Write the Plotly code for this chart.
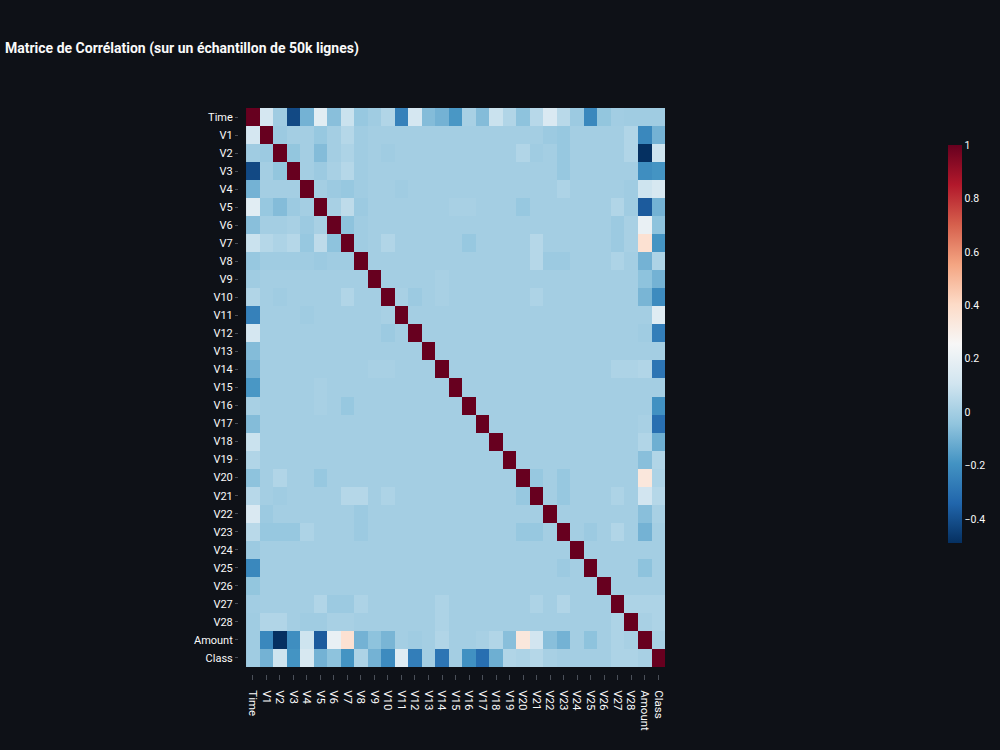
import plotly.graph_objects as go

labels = ["Time"] + [f"V{i}" for i in range(1, 29)] + ["Amount", "Class"]

# Lower-triangle rows: correlation of each variable with the variables before it
r_time = []
r_v1 = [0.12]
r_v2 = [-0.01, -0.02]
r_v3 = [-0.42, 0.00, -0.04]
r_v4 = [-0.10, 0.00, 0.00, 0.00]
r_v5 = [0.17, -0.03, -0.07, -0.02, 0.00]
r_v6 = [-0.06, 0.00, 0.00, 0.01, -0.02, 0.01]
r_v7 = [0.09, 0.04, 0.02, 0.04, -0.03, 0.06, -0.05]
r_v8 = [-0.03, -0.01, -0.01, -0.01, -0.01, -0.02, -0.01, -0.01]
r_v9 = [-0.01, 0.00, 0.00, 0.00, 0.00, 0.00, 0.00, 0.00, 0.00]
r_v10 = [0.03, 0.00, -0.01, 0.00, 0.00, 0.00, 0.00, 0.03, 0.00, 0.00]
r_v11 = [-0.25, 0.00, 0.00, 0.00, -0.01, 0.00, 0.00, 0.00, 0.00, 0.00, 0.01]
r_v12 = [0.12, 0.00, 0.00, 0.00, 0.00, 0.00, 0.00, 0.00, 0.00, 0.00, -0.02, 0.00]
r_v13 = [-0.07, 0.00, 0.00, 0.00, 0.00, 0.00, 0.00, 0.00, 0.00, 0.00, 0.00, 0.00, 0.00]
r_v14 = [-0.10, 0.00, 0.00, 0.00, 0.00, 0.00, 0.00, 0.00, 0.00, 0.01, 0.01, 0.00, 0.00, 0.00]
r_v15 = [-0.18, 0.00, 0.00, 0.00, 0.00, 0.01, 0.00, 0.00, 0.00, 0.00, 0.00, 0.00, 0.00, 0.00, 0.00]
r_v16 = [0.01, 0.00, 0.00, 0.00, 0.00, 0.01, 0.00, -0.03, 0.00, 0.00, 0.00, 0.00, 0.00, 0.00, 0.00, 0.00]
r_v17 = [-0.07, 0.00, 0.00, 0.00, 0.00, 0.00, 0.00, 0.00, 0.00, 0.00, 0.00, 0.00, 0.00, 0.00, 0.00, 0.00, 0.00]
r_v18 = [0.09, 0.00, 0.00, 0.00, 0.00, 0.00, 0.00, 0.00, 0.00, 0.00, 0.00, 0.00, 0.00, 0.00, 0.00, 0.00, 0.00, 0.00]
r_v19 = [0.03, 0.00, 0.00, 0.00, 0.00, 0.00, 0.00, 0.00, 0.00, 0.00, 0.00, 0.00, 0.00, 0.00, 0.00, 0.00, 0.00, 0.00, 0.00]
r_v20 = [-0.05, 0.00, 0.03, 0.00, 0.00, -0.03, 0.00, 0.00, 0.00, 0.00, 0.00, 0.00, 0.00, 0.00, 0.00, 0.00, 0.00, 0.00, 0.00, 0.00]
r_v21 = [0.045, 0.00, -0.01, 0.00, 0.00, 0.00, 0.00, 0.04, 0.04, 0.00, 0.02, 0.00, 0.00, 0.00, 0.00, 0.00, 0.00, 0.00, 0.00, 0.00, -0.03]
r_v22 = [0.14, -0.02, 0.00, 0.00, 0.00, 0.00, 0.00, 0.00, -0.02, 0.00, 0.00, 0.00, 0.00, 0.00, 0.00, 0.00, 0.00, 0.00, 0.00, 0.00, 0.00, 0.00]
r_v23 = [0.05, -0.03, -0.03, -0.03, 0.02, 0.00, 0.00, 0.00, -0.02, 0.00, 0.00, 0.00, 0.00, 0.00, 0.00, 0.00, 0.00, 0.00, 0.00, 0.00, -0.03, -0.03, 0.00]
r_v24 = [-0.02, 0.00, 0.00, 0.00, 0.00, 0.00, 0.00, 0.00, 0.00, 0.00, 0.00, 0.00, 0.00, 0.00, 0.00, 0.00, 0.00, 0.00, 0.00, 0.00, 0.00, 0.00, 0.00, 0.00]
r_v25 = [-0.23, 0.00, 0.00, 0.00, 0.00, 0.00, 0.00, 0.00, 0.00, 0.00, 0.00, 0.00, 0.00, 0.00, 0.00, 0.00, 0.00, 0.00, 0.00, 0.00, 0.00, 0.00, 0.00, -0.02, 0.00]
r_v26 = [-0.04, 0.00, 0.00, 0.00, 0.00, 0.00, 0.00, 0.00, 0.00, 0.00, 0.00, 0.00, 0.00, 0.00, 0.00, 0.00, 0.00, 0.00, 0.00, 0.00, 0.00, 0.00, 0.00, 0.00, 0.00, 0.00]
r_v27 = [-0.005, 0.00, 0.00, 0.00, 0.00, 0.03, -0.02, -0.02, 0.02, 0.00, 0.00, 0.00, 0.00, 0.00, 0.02, 0.00, 0.00, 0.00, 0.00, 0.00, 0.00, 0.02, 0.00, 0.03, 0.00, 0.00, 0.00]
r_v28 = [-0.01, 0.03, 0.03, 0.00, -0.01, -0.01, 0.01, 0.01, 0.00, 0.00, 0.00, 0.00, 0.00, 0.00, 0.02, 0.00, 0.00, 0.00, 0.00, 0.00, 0.00, 0.00, 0.00, 0.00, 0.00, 0.00, 0.00, 0.02]
r_amount = [-0.01, -0.23, -0.49, -0.21, 0.10, -0.37, 0.20, 0.37, -0.10, -0.05, -0.09, 0.00, -0.01,
            0.00, 0.03, 0.00, 0.00, 0.01, 0.03, -0.06, 0.34, 0.11, -0.06, -0.10, 0.00, -0.05, 0.00, 0.02, 0.01]
r_class = [-0.01, -0.10, 0.10, -0.19, 0.13, -0.10, -0.05, -0.19, 0.02, -0.10, -0.22, 0.16, -0.26,
           0.00, -0.29, 0.00, -0.20, -0.31, -0.11, 0.03, 0.02, 0.04, 0.01, 0.00, 0.00, 0.00, 0.00, 0.02, 0.02, 0.01]

rows = [r_time, r_v1, r_v2, r_v3, r_v4, r_v5, r_v6, r_v7, r_v8, r_v9, r_v10, r_v11, r_v12, r_v13,
        r_v14, r_v15, r_v16, r_v17, r_v18, r_v19, r_v20, r_v21, r_v22, r_v23, r_v24, r_v25, r_v26,
        r_v27, r_v28, r_amount, r_class]

n = len(labels)
z = [[1.0] * n for _ in range(n)]
for i, row in enumerate(rows):
    for j, v in enumerate(row):
        z[i][j] = v
        z[j][i] = v

BG = "#0e1117"
TXT = "#fafafa"
FONT = "Roboto, Arial, sans-serif"

fig = go.Figure(go.Heatmap(
    z=z, x=list(range(n)), y=list(range(n)),
    colorscale="RdBu_r",
    colorbar=dict(
        x=1.6643, xanchor="left", y=0.583, yanchor="middle",
        len=398, lenmode="pixels", thickness=14,
        xpad=0, ypad=0, outlinewidth=0,
        tickvals=[-0.4, -0.2, 0, 0.2, 0.4, 0.6, 0.8, 1],
        ticktext=["−0.4", "−0.2", "0", "0.2", "0.4", "0.6", "0.8", "1"],
        tickfont=dict(color=TXT, size=10.5, family=FONT),
    ),
))

fig.update_layout(
    width=1000, height=750,
    paper_bgcolor=BG, plot_bgcolor=BG,
    margin=dict(l=239, r=335, t=108, b=76),
    title=dict(
        text="<b>Matrice de Corrélation (sur un échantillon de 50k lignes)</b>",
        xref="container", yref="container", x=0.005, xanchor="left",
        y=1 - 48 / 750, yanchor="middle",
        font=dict(size=14, color=TXT, family=FONT),
    ),
    xaxis=dict(
        range=[-1.02, 30.5], showgrid=False, zeroline=False,
        tickmode="array", tickvals=list(range(n)), ticktext=labels,
        tickangle=90, ticks="outside", ticklen=5, tickcolor="#4a4f58",
        ticklabelstandoff=8,
        tickfont=dict(color=TXT, size=11.5, family=FONT),
    ),
    yaxis=dict(
        range=[30.89, -0.5], showgrid=False, zeroline=False,
        tickmode="array", tickvals=list(range(n)), ticktext=labels,
        ticks="outside", ticklen=3, tickcolor="#4a4f58",
        tickfont=dict(color=TXT, size=11, family=FONT),
    ),
)

fig.write_html("out.html")
